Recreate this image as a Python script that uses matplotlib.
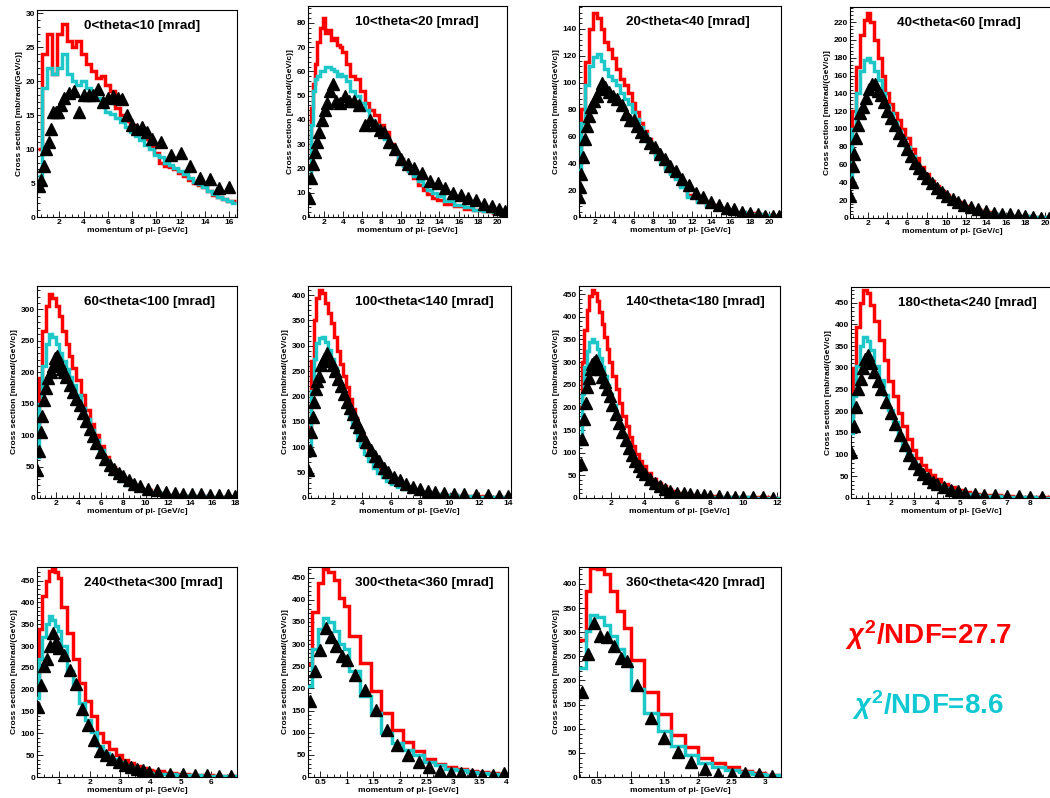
import numpy as np
import matplotlib
matplotlib.use("Agg")
import matplotlib.pyplot as plt
from matplotlib.ticker import MultipleLocator, AutoMinorLocator, FuncFormatter

plt.rcParams["font.family"] = ["Liberation Sans", "DejaVu Sans"]
plt.rcParams["mathtext.fontset"] = "custom"
plt.rcParams["mathtext.it"] = "Liberation Sans:italic:bold"
plt.rcParams["mathtext.rm"] = "Liberation Sans:bold"
plt.rcParams["mathtext.bf"] = "Liberation Sans:bold"

RED = "#ff0000"
CYAN = "#1ec8c8"
CYAN_TEXT = "#10c8d2"

# ---------------- 0 < theta < 10 mrad ----------------
p1_centers = [0.4, 0.8, 1.2, 1.6, 2.0, 2.4, 2.8, 3.2, 3.6, 4.0, 4.4, 4.8, 5.2, 5.6,
              6.0, 6.4, 6.8, 7.2, 7.6, 8.0, 8.4, 8.8, 9.2, 9.6, 10.0, 10.4, 10.8,
              11.2, 11.6, 12.0, 12.4, 12.8, 13.2, 13.6, 14.0, 14.4, 14.8, 15.2,
              15.6, 16.0, 16.4]
p1_red = [10, 24, 27, 21, 27, 28.5, 26, 25, 26, 24, 22.5, 21.5, 20.5, 20.8, 19.5,
          18.5, 16, 15, 14.2, 13.5, 13, 12.2, 11.5, 10.5, 9.5, 8, 7.5, 7.3, 7, 6.5,
          6, 5.5, 5, 4.7, 4.4, 3.8, 3.3, 3, 2.7, 2.4, 2.3]
p1_cyan = [6, 19, 22, 21, 22, 24, 21, 20, 19.5, 20, 19, 18, 17.5, 16.5, 15.5, 15.2,
           14.6, 14, 13.2, 12.5, 12, 11.3, 10.6, 10, 9.2, 8.8, 8, 7.6, 7.2, 6.8, 6.3,
           5.7, 5.2, 4.8, 4.4, 3.9, 3.4, 3, 2.7, 2.3, 2.1]
p1_px = [0.3, 0.5, 0.7, 0.9, 1.1, 1.3, 1.5, 1.7, 1.9, 2.1, 2.4, 2.8, 3.2, 3.6, 4.0,
         4.4, 4.8, 5.2, 5.6, 6.0, 6.4, 6.8, 7.2, 7.6, 8.0, 8.4, 8.8, 9.2, 9.6, 10.4,
         11.2, 12.0, 12.8, 13.6, 14.4, 15.2, 16.0]
p1_py = [4.5, 5.5, 7.5, 10, 11, 13, 15.5, 15.5, 15.5, 16.5, 17.5, 18.3, 18.5, 15.5,
         18, 18, 18, 18.8, 17, 17.5, 17.8, 17.5, 17.4, 15, 13.5, 13, 13.2, 12.5,
         11.5, 11, 9.2, 9.4, 7.5, 5.8, 5.6, 4.3, 4.4]

# ---------------- 10 < theta < 20 mrad ----------------
p2_centers = [0.5, 0.8, 1.0, 1.2, 1.5, 1.8, 2.0, 2.3, 2.6, 2.9, 3.2, 3.5, 3.8, 4.1,
              4.5, 5.0, 5.5, 6.0, 6.5, 7.0, 7.5, 8.0, 8.5, 9.0, 9.5, 10.0, 10.5,
              11.0, 11.5, 12.0, 12.5, 13.0, 13.5, 14.0, 15.0, 16.0, 17.0, 18.0,
              19.0, 20.0, 20.8]
p2_red = [20, 45, 55, 63, 72, 78, 82, 76, 77, 73, 74, 71, 70, 68, 63, 58, 57, 52, 47,
          44, 42, 38, 35, 30, 27, 24, 22, 19, 16, 13, 11, 9.5, 8, 7, 5.5, 4.5, 3.5,
          2.8, 2.3, 1.8, 1.5]
p2_cyan = [15, 38, 52, 57, 58, 60, 60, 62, 62, 61, 60, 58, 59, 58, 56, 52, 50, 47,
           44, 40, 38, 35, 32, 29, 27, 24, 21, 19, 17, 15, 13, 11, 10, 8.5, 6.5, 5,
           4, 3, 2.5, 2, 1.5]
p2_px = [0.5, 0.7, 0.9, 1.1, 1.3, 1.5, 1.8, 2.1, 2.4, 2.7, 3.0, 3.3, 3.7, 4.2, 4.6,
         5.1, 5.7, 6.3, 6.8, 7.3, 7.8, 8.3, 8.8, 9.4, 10.0, 10.7, 11.4, 12.2, 13.0,
         13.8, 14.6, 15.4, 16.2, 17.0, 17.8, 18.6, 19.4, 20.2, 20.8]
p2_py = [8, 16, 22, 27, 31, 35, 40, 44, 47, 52, 55, 48, 47, 50, 48, 48, 46, 38, 40,
         38, 36, 35, 31, 28, 24, 22, 20, 18, 15, 14, 12, 10, 9, 8, 7, 5.5, 4.5, 3.5,
         2.5]

# ---------------- 20 < theta < 40 mrad ----------------
p3_centers = [0.4, 0.8, 1.2, 1.6, 2.0, 2.4, 2.8, 3.2, 3.6, 4.0, 4.4, 4.8, 5.2, 5.6,
              6.0, 6.4, 6.8, 7.2, 7.6, 8.0, 8.5, 9.0, 9.5, 10.0, 10.5, 11.0, 12.0,
              13.0, 14.0, 15.0, 16.0, 17.0, 18.0, 19.0, 20.0, 21.0]
p3_red = [40, 80, 115, 140, 152, 148, 140, 130, 125, 118, 110, 103, 98, 92, 85, 78,
          70, 64, 58, 53, 47, 42, 37, 33, 29, 23, 16, 12, 9, 7, 5, 4, 3, 2, 1.5, 1]
p3_cyan = [35, 70, 98, 112, 119, 121, 116, 110, 105, 102, 98, 92, 88, 84, 78, 73, 67,
           62, 56, 51, 45, 40, 36, 32, 28, 22, 15, 11, 8.5, 6.5, 5, 3.5, 2.5, 2, 1.5, 1]
p3_px = [0.4, 0.5, 0.6, 0.8, 1.0, 1.2, 1.4, 1.6, 1.9, 2.2, 2.5, 2.8, 3.1, 3.5, 3.9,
         4.3, 4.8, 5.2, 5.6, 6.0, 6.4, 6.8, 7.2, 7.7, 8.2, 8.7, 9.2, 9.8, 10.4, 11.0,
         11.7, 12.4, 13.2, 14.0, 14.8, 15.6, 16.4, 17.2, 18.0, 18.8, 19.6, 20.4, 21.0]
p3_py = [15, 22, 32, 45, 58, 68, 75, 82, 86, 90, 95, 100, 97, 93, 90, 88, 83, 77, 72,
         72, 68, 63, 60, 55, 52, 47, 43, 38, 34, 28, 24, 18, 15, 11, 9, 7, 6, 4, 3, 2,
         0.5, 0.5, 1]

# ---------------- 40 < theta < 60 mrad ----------------
p4_centers = [0.3, 0.6, 1.0, 1.4, 1.8, 2.1, 2.4, 2.8, 3.2, 3.6, 4.0, 4.4, 4.8, 5.2,
              5.6, 6.0, 6.5, 7.0, 7.5, 8.0, 8.5, 9.0, 9.5, 10.0, 10.5, 11.0, 12.0,
              13.0, 14.0, 15.0, 16.0, 17.0, 18.0, 19.0, 20.0, 21.0]
p4_red = [60, 120, 170, 205, 222, 230, 220, 200, 180, 160, 140, 128, 118, 110, 100,
          90, 78, 67, 57, 49, 42, 36, 30, 26, 22, 18, 13, 9, 6.5, 5, 3.5, 2.5, 2, 1.5,
          1, 1]
p4_cyan = [45, 100, 140, 165, 178, 180, 175, 165, 155, 140, 127, 118, 108, 98, 90, 80,
           70, 60, 50, 43, 37, 31, 26, 22, 18, 15, 11, 8, 5.5, 4, 3, 2.5, 2, 1.5, 1, 1]
p4_px = [0.25, 0.4, 0.5, 0.6, 0.8, 1.0, 1.2, 1.5, 1.8, 2.1, 2.4, 2.7, 3.0, 3.3, 3.6,
         4.0, 4.4, 4.8, 5.2, 5.6, 6.0, 6.4, 6.8, 7.2, 7.6, 8.0, 8.5, 9.0, 9.5, 10.0,
         10.6, 11.2, 11.8, 12.5, 13.2, 14.0, 14.8, 15.6, 16.4, 17.2, 18.0, 18.8, 19.6,
         20.4]
p4_py = [25, 40, 58, 72, 90, 105, 118, 125, 135, 145, 150, 150, 143, 138, 130, 120,
         112, 104, 96, 88, 78, 70, 62, 56, 50, 45, 39, 34, 29, 25, 21, 18, 15, 12, 10,
         8, 6, 5, 4, 3, 2, 1, 0.5, 0.5]

# ---------------- 60 < theta < 100 mrad ----------------
p5_centers = [0.3, 0.6, 0.9, 1.2, 1.5, 1.8, 2.1, 2.4, 2.7, 3.0, 3.3, 3.6, 4.0, 4.4,
              4.8, 5.2, 5.6, 6.0, 6.5, 7.0, 7.5, 8.0, 8.5, 9.0, 9.5, 10.0, 11.0, 12.0,
              13.0, 14.0, 15.0, 16.0, 17.0, 18.0]
p5_red = [100, 190, 265, 305, 325, 318, 305, 290, 265, 245, 225, 207, 187, 163, 140,
          118, 100, 82, 65, 50, 40, 31, 24, 19, 15, 12, 8, 5.5, 4, 3, 2.5, 2, 1.5, 1]
p5_cyan = [65, 150, 210, 245, 260, 256, 245, 230, 218, 205, 193, 180, 163, 143, 125,
           108, 92, 76, 60, 45, 35, 27, 21, 17, 14, 11, 8, 5.5, 4, 3, 2.5, 2, 1.5, 1]
p5_px = [0.3, 0.45, 0.6, 0.75, 0.9, 1.1, 1.3, 1.5, 1.7, 1.9, 2.1, 2.3, 2.5, 2.7, 2.9,
         3.2, 3.5, 3.8, 4.1, 4.4, 4.7, 5.0, 5.3, 5.6, 6.0, 6.4, 6.8, 7.2, 7.6, 8.0,
         8.5, 9.0, 9.5, 10.2, 11.0, 11.8, 12.6, 13.4, 14.2, 15.0, 15.8, 16.6, 17.4,
         18.0]
p5_py = [45, 75, 105, 130, 155, 175, 190, 200, 210, 222, 225, 215, 205, 200, 192, 180,
         168, 158, 148, 135, 122, 110, 98, 88, 73, 62, 53, 46, 40, 35, 29, 23, 19, 15,
         12, 10, 8, 7, 6, 6, 5, 5, 4, 3]

# ---------------- 100 < theta < 140 mrad ----------------
p6_centers = [0.4, 0.6, 0.8, 1.0, 1.2, 1.4, 1.6, 1.8, 2.0, 2.2, 2.4, 2.6, 2.8, 3.0,
              3.2, 3.4, 3.6, 3.8, 4.0, 4.3, 4.6, 4.9, 5.2, 5.5, 5.8, 6.2, 6.6, 7.0,
              7.5, 8.0, 8.5, 9.0, 10.0, 11.0, 12.0, 13.0, 14.0]
p6_red = [140, 270, 350, 395, 410, 405, 385, 365, 345, 318, 290, 265, 240, 218, 195,
          175, 157, 140, 125, 105, 88, 73, 60, 50, 42, 33, 26, 21, 16, 12, 10, 8, 6,
          4, 3, 2, 1.5]
p6_cyan = [95, 210, 275, 305, 316, 318, 308, 292, 275, 257, 238, 218, 198, 180, 162,
           146, 130, 116, 103, 87, 72, 60, 50, 41, 34, 27, 21, 17, 13, 10, 8, 7, 5,
           3.5, 2.5, 2, 1.5]
p6_px = [0.35, 0.45, 0.55, 0.65, 0.75, 0.85, 0.95, 1.05, 1.2, 1.4, 1.6, 1.8, 2.0, 2.2,
         2.4, 2.6, 2.8, 3.0, 3.2, 3.4, 3.6, 3.8, 4.0, 4.3, 4.6, 4.9, 5.2, 5.5, 5.8,
         6.2, 6.6, 7.0, 7.5, 8.0, 8.5, 9.0, 9.6, 10.3, 11.0, 11.8, 12.6, 13.4, 14.0]
p6_py = [55, 95, 130, 160, 190, 215, 230, 240, 262, 275, 285, 270, 262, 250, 235, 220,
         205, 190, 178, 165, 150, 140, 125, 110, 95, 82, 72, 60, 52, 42, 35, 28, 22,
         17, 14, 12, 10, 8, 7, 6, 5, 4, 3]

# ---------------- 140 < theta < 180 mrad ----------------
p7_centers = [0.2, 0.35, 0.5, 0.65, 0.8, 0.95, 1.1, 1.25, 1.4, 1.55, 1.7, 1.85, 2.0,
              2.2, 2.4, 2.6, 2.8, 3.0, 3.2, 3.4, 3.6, 3.8, 4.0, 4.3, 4.6, 4.9, 5.2,
              5.5, 5.8, 6.2, 6.6, 7.0, 7.5, 8.0, 9.0, 10.0, 11.0, 12.0]
p7_red = [200, 300, 370, 415, 445, 460, 452, 435, 410, 385, 355, 330, 300, 270, 240,
          210, 182, 158, 135, 115, 97, 82, 70, 55, 42, 33, 26, 20, 16, 12, 9, 7, 5, 4,
          3, 2, 1.5, 1]
p7_cyan = [120, 230, 290, 325, 345, 352, 345, 330, 310, 290, 270, 250, 230, 205, 180,
           158, 138, 120, 103, 88, 75, 63, 54, 42, 33, 26, 20, 16, 12, 9, 7, 5.5, 4, 3,
           2, 1.5, 1, 1]
p7_px = [0.2, 0.3, 0.4, 0.5, 0.6, 0.7, 0.8, 0.9, 1.0, 1.1, 1.2, 1.35, 1.5, 1.65, 1.8,
         1.95, 2.1, 2.3, 2.5, 2.7, 2.9, 3.1, 3.3, 3.5, 3.7, 3.9, 4.1, 4.4, 4.7, 5.0,
         5.3, 5.6, 6.0, 6.4, 6.8, 7.2, 7.6, 8.0, 8.5, 9.0, 9.5, 10.0, 10.6, 11.2, 11.8]
p7_py = [75, 130, 175, 210, 245, 265, 285, 295, 300, 305, 295, 285, 268, 255, 240, 225,
         205, 185, 165, 145, 127, 110, 95, 82, 70, 60, 52, 42, 33, 26, 20, 16, 12, 10,
         8, 7, 6, 5, 4, 3, 3, 2, 2, 2, 1]

# ---------------- 180 < theta < 240 mrad ----------------
p8_centers = [0.3, 0.45, 0.6, 0.75, 0.9, 1.05, 1.2, 1.4, 1.6, 1.8, 2.0, 2.2, 2.4, 2.6,
              2.8, 3.0, 3.2, 3.4, 3.6, 3.8, 4.0, 4.3, 4.6, 4.9, 5.2, 5.6, 6.0, 6.5,
              7.0, 7.5, 8.0, 8.5, 8.9]
p8_red = [190, 300, 395, 450, 478, 472, 445, 408, 365, 318, 270, 235, 195, 165, 135,
          110, 92, 77, 64, 52, 43, 33, 25, 19, 14, 10, 8, 6, 4, 3, 2.5, 2, 1.5]
p8_cyan = [150, 235, 305, 350, 370, 362, 340, 305, 272, 238, 203, 175, 145, 120, 100,
           82, 67, 55, 45, 37, 31, 23, 17, 13, 10, 7, 5.5, 4, 3, 2, 1.5, 1, 1]
p8_px = [0.3, 0.4, 0.5, 0.6, 0.7, 0.8, 0.9, 1.0, 1.15, 1.3, 1.45, 1.6, 1.8, 2.0, 2.2,
         2.4, 2.6, 2.8, 3.0, 3.2, 3.4, 3.6, 3.8, 4.0, 4.3, 4.6, 4.9, 5.2, 5.6, 6.0,
         6.5, 7.0, 7.5, 8.0, 8.5]
p8_py = [105, 165, 210, 250, 275, 300, 320, 330, 310, 290, 270, 250, 222, 195, 170,
         145, 122, 100, 80, 66, 55, 46, 38, 32, 25, 19, 15, 12, 10, 8, 6, 5, 4, 3, 3]

# ---------------- 240 < theta < 300 mrad ----------------
p9_edges = [0.25, 0.35, 0.45, 0.55, 0.65, 0.75, 0.85, 0.95, 1.05, 1.25, 1.45, 1.65,
            1.85, 2.05, 2.25, 2.45, 2.65, 2.85, 3.05, 3.25, 3.45, 3.65, 3.85, 4.05,
            4.45, 4.85, 5.25, 5.65, 6.05, 6.45, 6.84]
p9_red = [230, 340, 415, 450, 472, 478, 470, 455, 390, 330, 270, 215, 175, 140, 100,
          80, 64, 50, 40, 32, 25, 20, 16, 13, 10, 7, 5, 4, 3, 2.5]
p9_cyan = [180, 270, 320, 350, 368, 360, 345, 335, 300, 242, 208, 170, 131, 104, 72,
           54, 42, 35, 28, 22, 17, 13, 10, 8, 6, 4.5, 3.5, 2.5, 2, 1.5]
p9_px = [0.3, 0.4, 0.5, 0.6, 0.7, 0.8, 0.9, 1.0, 1.15, 1.35, 1.55, 1.75, 1.95, 2.15,
         2.35, 2.55, 2.75, 2.95, 3.15, 3.35, 3.55, 3.75, 3.95, 4.25, 4.65, 5.05, 5.45,
         5.85, 6.25, 6.65]
p9_py = [160, 210, 255, 270, 300, 330, 310, 295, 280, 245, 212, 155, 118, 85, 60, 50,
         42, 35, 28, 22, 18, 15, 12, 10, 8, 6, 5, 4, 3, 2]

# ---------------- 300 < theta < 360 mrad ----------------
p10_edges = [0.25, 0.35, 0.45, 0.55, 0.65, 0.75, 0.85, 0.95, 1.05, 1.25, 1.45, 1.65,
             1.85, 2.05, 2.25, 2.45, 2.65, 2.85, 3.05, 3.25, 3.45, 3.65, 3.85, 4.03]
p10_red = [255, 372, 437, 470, 462, 445, 405, 385, 318, 257, 193, 145, 105, 80, 59,
           40, 30, 23, 18, 14, 11, 9, 7]
p10_cyan = [205, 290, 335, 358, 350, 330, 300, 290, 240, 182, 144, 99, 76, 61, 49, 34,
            27, 19, 15, 12, 9, 7, 5]
p10_px = [0.3, 0.4, 0.5, 0.6, 0.7, 0.8, 0.9, 1.0, 1.15, 1.35, 1.55, 1.75, 1.95, 2.15,
          2.35, 2.55, 2.75, 2.95, 3.15, 3.35, 3.55, 3.75, 3.95]
p10_py = [171, 239, 286, 337, 315, 296, 273, 265, 231, 197, 152, 106, 72, 49, 34, 23,
          14, 10, 8, 6, 5, 5, 8]

# ---------------- 360 < theta < 420 mrad ----------------
p11_edges = [0.23, 0.33, 0.4, 0.5, 0.6, 0.7, 0.8, 0.9, 1.0, 1.2, 1.4, 1.6, 1.8, 2.0,
             2.2, 2.4, 2.6, 2.8, 3.0, 3.23]
p11_red = [283, 385, 432, 430, 420, 385, 343, 308, 243, 177, 130, 88, 62, 40, 28, 20,
           13, 8, 5]
p11_cyan = [225, 303, 335, 332, 315, 292, 265, 235, 183, 133, 95, 65, 45, 30, 20, 14,
            10, 7, 4]
p11_px = [0.28, 0.37, 0.45, 0.55, 0.65, 0.75, 0.85, 0.95, 1.1, 1.3, 1.5, 1.7, 1.9,
          2.1, 2.3, 2.5, 2.7, 2.9, 3.1]
p11_py = [177, 254, 320, 292, 291, 271, 247, 240, 191, 122, 80, 52, 31, 17, 7, 5.5, 8,
          5.5, 1.5]

titles = ["0<theta<10 [mrad]", "10<theta<20 [mrad]", "20<theta<40 [mrad]",
          "40<theta<60 [mrad]", "60<theta<100 [mrad]", "100<theta<140 [mrad]",
          "140<theta<180 [mrad]", "180<theta<240 [mrad]", "240<theta<300 [mrad]",
          "300<theta<360 [mrad]", "360<theta<420 [mrad]"]

chi2_red = 27.7
chi2_cyan = 8.6


def edges_from_centers(c):
    c = np.asarray(c, dtype=float)
    mid = 0.5 * (c[1:] + c[:-1])
    return np.concatenate([[c[0] - (mid[0] - c[0])], mid, [c[-1] + (c[-1] - mid[-1])]])


# pixel boxes (left, top, right, bottom), axis ranges and tick steps for each pad
panels = [
    dict(box=(37, 10, 237, 217), xlim=(0.15, 16.65), ylim=(0, 30.5), xs=2, ys=5,
         edges=edges_from_centers(p1_centers), red=p1_red, cyan=p1_cyan, px=p1_px, py=p1_py),
    dict(box=(308, 6, 507, 217), xlim=(0.38, 21.0), ylim=(0, 87), xs=2, ys=10,
         edges=edges_from_centers(p2_centers), red=p2_red, cyan=p2_cyan, px=p2_px, py=p2_py),
    dict(box=(579, 6, 781, 217), xlim=(0.38, 21.2), ylim=(0, 157), xs=2, ys=20,
         edges=edges_from_centers(p3_centers), red=p3_red, cyan=p3_cyan, px=p3_px, py=p3_py),
    dict(box=(850, 7, 1055, 218), xlim=(0.2, 21.0), ylim=(0, 237), xs=2, ys=20,
         edges=edges_from_centers(p4_centers), red=p4_red, cyan=p4_cyan, px=p4_px, py=p4_py),
    dict(box=(37, 286, 237, 498), xlim=(0.27, 18.2), ylim=(0, 337), xs=2, ys=50,
         edges=edges_from_centers(p5_centers), red=p5_red, cyan=p5_cyan, px=p5_px, py=p5_py),
    dict(box=(308, 286, 511, 498), xlim=(0.32, 14.2), ylim=(0, 418), xs=2, ys=50,
         edges=edges_from_centers(p6_centers), red=p6_red, cyan=p6_cyan, px=p6_px, py=p6_py),
    dict(box=(579, 286, 780, 498), xlim=(0.1, 12.2), ylim=(0, 468), xs=2, ys=50,
         edges=edges_from_centers(p7_centers), red=p7_red, cyan=p7_cyan, px=p7_px, py=p7_py),
    dict(box=(851, 287, 1052, 498), xlim=(0.29, 8.93), ylim=(0, 486), xs=1, ys=50,
         edges=edges_from_centers(p8_centers), red=p8_red, cyan=p8_cyan, px=p8_px, py=p8_py),
    dict(box=(37, 567, 237, 777), xlim=(0.27, 6.84), ylim=(0, 481), xs=1, ys=50,
         edges=p9_edges, red=p9_red, cyan=p9_cyan, px=p9_px, py=p9_py),
    dict(box=(308, 567, 508, 777), xlim=(0.27, 4.03), ylim=(0, 474), xs=0.5, ys=50,
         edges=p10_edges, red=p10_red, cyan=p10_cyan, px=p10_px, py=p10_py),
    dict(box=(579, 567, 781, 777), xlim=(0.233, 3.23), ylim=(0, 435), xs=0.5, ys=50,
         edges=p11_edges, red=p11_red, cyan=p11_cyan, px=p11_px, py=p11_py),
]

W, H = 1050, 798
fig = plt.figure(figsize=(W / 100, H / 100), dpi=100)
fmt = FuncFormatter(lambda v, pos: "%g" % v)

for title, p in zip(titles, panels):
    l, t, r, b = p["box"]
    ax = fig.add_axes([l / W, 1 - b / H, (r - l) / W, (b - t) / H])
    ax.stairs(p["red"], p["edges"], baseline=None, color=RED, lw=2.5, zorder=2)
    ax.stairs(p["cyan"], p["edges"], baseline=None, color=CYAN, lw=2.5, zorder=3)
    ax.plot(p["px"], p["py"], "^", color="black", ms=8.5, mec="black", zorder=4)
    ax.set_xlim(*p["xlim"])
    ax.set_ylim(*p["ylim"])
    ax.xaxis.set_major_locator(MultipleLocator(p["xs"]))
    ax.yaxis.set_major_locator(MultipleLocator(p["ys"]))
    ax.xaxis.set_minor_locator(AutoMinorLocator(4))
    ax.yaxis.set_minor_locator(AutoMinorLocator(5))
    ax.xaxis.set_major_formatter(fmt)
    ax.yaxis.set_major_formatter(fmt)
    ax.tick_params(which="both", direction="in", top=False, right=False,
                   labelsize=6, pad=1.5, width=0.6, colors="black")
    ax.tick_params(which="major", length=4)
    ax.tick_params(which="minor", length=2)
    for lab in ax.get_xticklabels() + ax.get_yticklabels():
        lab.set_fontweight("bold")
    for s in ax.spines.values():
        s.set_linewidth(0.8)
    ax.set_xlabel("momentum of pi- [GeV/c]", fontsize=6, fontweight="bold", labelpad=1)
    ax.set_ylabel("Cross section [mb/rad/(GeV/c)]", fontsize=6, fontweight="bold",
                  labelpad=2)
    wpx, hpx = r - l, b - t
    ax.text(47 / wpx, 1 - 16 / hpx, title, transform=ax.transAxes, fontsize=9.7,
            fontweight="bold", ha="left", va="center", zorder=6)

fig.text(845 / W, 1 - 635 / H, r"$\chi^{2}$/NDF=%.1f" % chi2_red, color=RED,
         fontsize=20, fontweight="bold", ha="left", va="center")
fig.text(852 / W, 1 - 705 / H, r"$\chi^{2}$/NDF=%.1f" % chi2_cyan, color=CYAN_TEXT,
         fontsize=20, fontweight="bold", ha="left", va="center")

fig.savefig("out.png", dpi=100)
